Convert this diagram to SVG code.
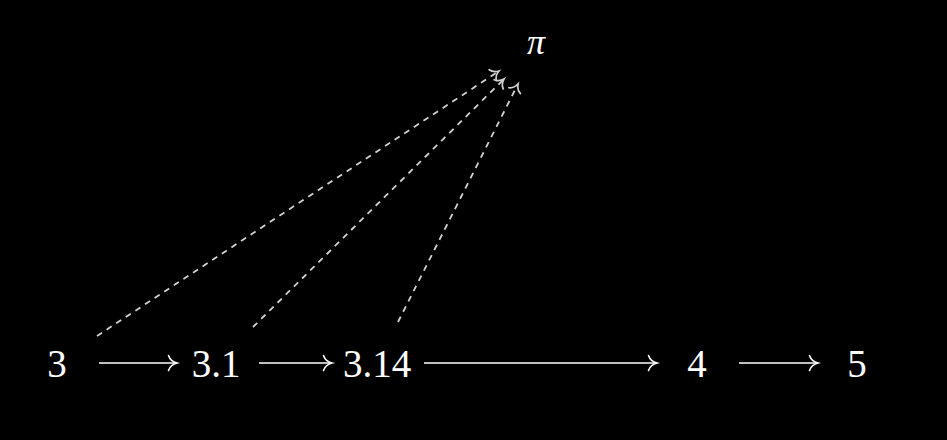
<svg xmlns="http://www.w3.org/2000/svg" width="947" height="440" viewBox="0 0 947 440">
<style>
.bg{fill:#000}
.lbl{font-family:"Liberation Serif","DejaVu Serif",serif;font-size:39px;fill:#fff;text-anchor:middle}
.pi{font-style:italic;font-size:36px}
.arr{stroke:#fff;stroke-width:1.6;fill:none}
.dash{stroke:#d2d2d2;stroke-width:1.8;fill:none;stroke-dasharray:6 5.5}
</style>
<defs>
<marker id="tw" markerUnits="userSpaceOnUse" viewBox="-11 -10 13 20" refX="0" refY="0" markerWidth="13" markerHeight="20" orient="auto" overflow="visible">
<path d="M-8.5,-7.5 C-7,-3 -3,-0.8 0,0 C-3,0.8 -7,3 -8.5,7.5" fill="none" stroke="#fff" stroke-width="1.6" stroke-linecap="round"/>
</marker>
<marker id="tg" markerUnits="userSpaceOnUse" viewBox="-11 -10 13 20" refX="0" refY="0" markerWidth="13" markerHeight="20" orient="auto" overflow="visible">
<path d="M-7.5,-6.5 C-6,-2.5 -2.5,-0.7 0,0 C-2.5,0.7 -6,2.5 -7.5,6.5" fill="none" stroke="#d2d2d2" stroke-width="1.7" stroke-linecap="round"/>
</marker>
</defs>
<rect class="bg" x="0" y="0" width="947" height="440"/>
<g id="connectors">
<line class="arr" x1="99" y1="363" x2="177" y2="363" marker-end="url(#tw)"/>
<line class="arr" x1="259" y1="363" x2="332" y2="363" marker-end="url(#tw)"/>
<line class="arr" x1="424" y1="363" x2="657" y2="363" marker-end="url(#tw)"/>
<line class="arr" x1="739" y1="363" x2="818" y2="363" marker-end="url(#tw)"/>
<line class="dash" x1="97" y1="336" x2="499" y2="71" marker-end="url(#tg)"/>
<line class="dash" x1="253" y1="327" x2="504" y2="79" marker-end="url(#tg)"/>
<line class="dash" x1="398" y1="322" x2="518" y2="84" marker-end="url(#tg)"/>
</g>
<g id="n3"><text class="lbl" x="57" y="377">3</text></g>
<g id="n31"><text class="lbl" x="216" y="377">3.1</text></g>
<g id="n314"><text class="lbl" x="377" y="377">3.14</text></g>
<g id="n4"><text class="lbl" x="697" y="377">4</text></g>
<g id="n5"><text class="lbl" x="857" y="377">5</text></g>
<g id="npi"><text class="lbl pi" x="536" y="54">π</text></g>
</svg>
